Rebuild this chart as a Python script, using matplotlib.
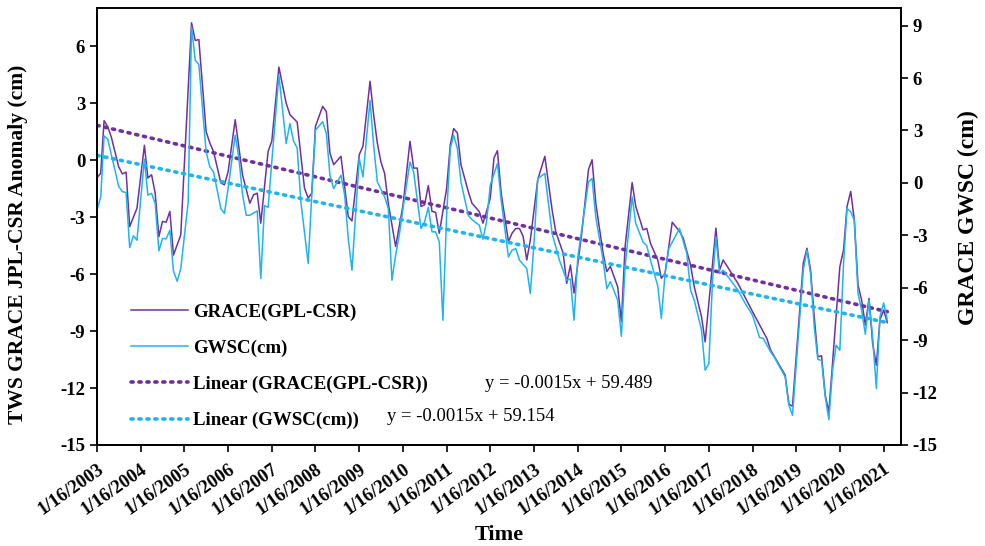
import numpy as np
import pandas as pd
import matplotlib
matplotlib.use("Agg")
import matplotlib.pyplot as plt
import matplotlib.dates as mdates

plt.rcParams['font.family'] = ['Liberation Serif', 'DejaVu Serif']
plt.rcParams['axes.unicode_minus'] = False

start = pd.Timestamp('2003-01-16')

# month offsets from 1/16/2003 and values
grace_months = [0, 1, 2, 3, 4, 6, 7, 8, 9, 11, 13, 14, 15, 16, 17, 18, 19, 20, 21, 23,
                26, 27, 28, 30, 31, 32, 34, 35, 36, 38, 39, 40, 42, 43, 44, 45, 47, 48, 50, 52,
                53, 54, 55, 57, 58, 59, 60, 62, 63, 64, 65, 67, 69, 70, 72, 73, 75, 76, 77, 78,
                79, 80, 82, 83, 84, 86, 87, 88, 89, 90, 91, 92, 93, 94, 96, 97, 98, 99, 100, 102,
                103, 105, 106, 107, 108, 109, 110, 111, 113, 114, 115, 116, 117, 118, 119, 121, 123, 125, 126, 128,
                129, 130, 131, 133, 135, 136, 137, 139, 140, 141, 143, 144, 145, 147, 148, 150, 151, 152, 154, 155,
                156, 158, 160, 161, 163, 164, 166, 167, 168, 169, 170, 171, 172, 176, 180, 184, 185, 189, 190, 191,
                194, 195, 196, 197, 198, 199, 200, 201, 202, 203, 204, 205, 206, 207, 208, 209, 210, 211, 212, 213,
                214, 215, 216, 217]
grace_vals = [-0.94, -0.68, 2.08, 1.75, 1.2, -0.35, -0.73, -0.63, -3.5, -2.53, 0.78, -0.94, -0.77, -1.74, -4.03, -3.23, -3.27, -2.7, -5.0, -3.94,
              7.23, 6.3, 6.35, 1.5, 0.9, 0.45, -1.2, -1.3, -0.6, 2.13, 0.64, -0.77, -2.27, -1.83, -1.74, -3.32, 0.46, 1.0, 4.9, 3.0,
              2.4, 2.2, 2.0, -1.47, -2.0, -1.74, 1.78, 2.83, 2.56, 0.37, -0.24, 0.2, -2.97, -3.2, 0.29, 0.73, 4.15, 2.4, 0.9, -0.1,
              -0.7, -2.3, -4.55, -3.5, -2.4, 0.99, -0.42, -0.42, -2.44, -2.35, -1.34, -2.7, -2.75, -3.85, -1.5, 0.81, 1.66, 1.43, -0.24, -1.65,
              -2.27, -2.71, -3.32, -2.71, -2.0, 0.11, 0.5, -1.74, -4.29, -3.85, -3.6, -3.6, -4.0, -5.26, -4.2, -1.03, 0.2, -2.62, -3.76, -4.9,
              -6.49, -5.52, -7.0, -4.0, -0.5, 0.02, -2.27, -4.9, -5.87, -5.6, -6.67, -8.51, -4.55, -1.18, -2.44, -3.67, -3.6, -4.38, -5.26, -6.22,
              -5.96, -3.27, -3.75, -4.11, -5.52, -6.67, -8.25, -9.57, -7.54, -5.43, -3.58, -5.78, -5.26, -6.49, -7.98, -9.39, -10.0, -11.32, -12.85, -12.96,
              -5.43, -4.64, -5.78, -8.25, -10.36, -10.3, -12.38, -13.26, -10.7, -8.25, -5.61, -4.73, -2.44, -1.65, -3.15, -6.58, -7.37, -8.69, -7.28, -9.65,
              -10.8, -8.42, -7.9, -8.56]

gwsc_months = [0, 1, 2, 3, 4, 5, 6, 7, 8, 9, 10, 11, 13, 14, 15, 16, 17, 18, 19, 20,
               21, 22, 23, 25, 26, 27, 28, 30, 31, 32, 34, 35, 36, 38, 39, 40, 41, 42, 44, 45,
               46, 47, 50, 52, 53, 54, 55, 56, 58, 59, 60, 62, 63, 64, 65, 67, 68, 69, 70, 71,
               72, 73, 75, 76, 77, 79, 80, 81, 82, 83, 84, 86, 87, 89, 90, 91, 92, 93, 94, 95,
               96, 97, 98, 99, 100, 102, 103, 105, 106, 107, 108, 110, 111, 113, 114, 115, 116, 118, 119, 120,
               121, 123, 125, 127, 129, 130, 131, 132, 135, 136, 137, 139, 140, 141, 143, 144, 145, 147, 148, 150,
               151, 152, 154, 155, 156, 157, 160, 162, 163, 164, 166, 167, 168, 169, 170, 171, 172, 176, 178, 180,
               182, 183, 185, 186, 189, 190, 191, 194, 195, 196, 197, 198, 199, 200, 201, 202, 203, 204, 205, 206,
               207, 208, 209, 210, 211, 212, 213, 214, 215, 216, 217]
gwsc_vals = [-1.56, -0.8, 2.69, 2.5, 1.6, 0.7, -0.2, -0.5, -0.55, -3.7, -3.03, -3.28, 1.36, -0.7, -0.6, -1.18, -3.89, -3.18, -3.2, -2.71,
             -5.05, -5.63, -4.9, -1.09, 8.93, 7.02, 6.78, 1.77, 0.92, 0.63, -1.47, -1.75, -0.3, 2.73, 1.4, -0.65, -1.85, -1.85, -1.6, -5.47,
             -1.3, -1.4, 6.17, 2.25, 3.4, 2.4, 2.0, -1.09, -4.61, -0.7, 3.02, 3.5, 2.83, 0.44, -0.32, 0.44, -0.7, -3.18, -5.0, -1.85,
             1.4, 0.34, 4.73, 2.16, 0.06, -0.8, -1.47, -5.57, -4.14, -3.0, -1.5, 1.2, 0.6, -2.61, -2.23, -1.4, -2.8, -2.8, -3.38, -7.86,
             -1.85, 1.97, 2.73, 1.97, 0.06, -1.85, -2.1, -2.42, -3.22, -2.23, -0.13, 1.11, -0.99, -4.24, -3.85, -3.76, -4.42, -4.9, -6.33, -3.4,
             0.25, 0.54, -2.9, -4.42, -5.57, -5.5, -7.86, -4.3, 0.06, 0.25, -1.95, -4.42, -6.05, -5.65, -6.71, -8.78, -4.8, -0.8, -2.32, -3.38,
             -3.6, -4.42, -5.9, -7.76, -5.2, -3.76, -2.61, -4.04, -6.14, -6.71, -8.43, -10.72, -10.34, -5.57, -3.09, -5.19, -5.0, -6.14, -6.9, -7.57,
             -8.85, -8.9, -9.67, -9.96, -11.1, -12.72, -13.3, -5.0, -3.85, -5.19, -8.24, -10.11, -10.15, -12.25, -13.55, -10.72, -9.29, -9.58, -4.61, -1.47,
             -1.66, -2.14, -6.33, -7.29, -8.66, -6.71, -8.81, -11.77, -7.67, -6.87, -7.86]

tick_years = list(range(2003, 2022))
left_ticks = [-15, -12, -9, -6, -3, 0, 3, 6]
right_ticks = [-15, -12, -9, -6, -3, 0, 3, 6, 9]

eq_grace = 'y = -0.0015x + 59.489'
eq_gwsc = 'y = -0.0015x + 59.154'

purple = '#7030A0'
blue = '#1FB4EE'


def to_dates(months):
    return [start + pd.DateOffset(months=m) for m in months]


grace_dates = to_dates(grace_months)
gwsc_dates = to_dates(gwsc_months)

fig = plt.figure(figsize=(9.85, 5.46), dpi=100)
ax = fig.add_axes([0.0985, 0.185, 0.8162, 0.80])
ax2 = ax.twinx()

l1, = ax.plot(grace_dates, grace_vals, color=purple, lw=1.1, label='GRACE(GPL-CSR)')
l2, = ax2.plot(gwsc_dates, gwsc_vals, color=blue, lw=1.1, label='GWSC(cm)')

# linear trends
gx = mdates.date2num(grace_dates)
p = np.polyfit(gx, grace_vals, 1)
l3, = ax.plot(grace_dates, np.polyval(p, gx), color=purple, lw=2.6, ls=(0, (0.6, 1.6)),
              dash_capstyle='round', label='Linear (GRACE(GPL-CSR))')
wx = mdates.date2num(gwsc_dates)
q = np.polyfit(wx, gwsc_vals, 1)
l4, = ax2.plot(gwsc_dates, np.polyval(q, wx), color=blue, lw=2.6, ls=(0, (0.6, 1.6)),
               dash_capstyle='round', label='Linear (GWSC(cm))')

ax.set_ylim(-15, 8)
ax2.set_ylim(-15, 10)
ax.set_yticks(left_ticks)
ax2.set_yticks(right_ticks)
ax.set_xlim(start, pd.Timestamp('2021-06-10'))

xt = [pd.Timestamp(year=y, month=1, day=16) for y in tick_years]
ax.set_xticks(xt)
ax.set_xticklabels(['1/16/%d' % y for y in tick_years], rotation=35, ha='right',
                   rotation_mode='anchor', fontweight='bold', fontsize=13.5)

for a in (ax, ax2):
    a.tick_params(direction='out', length=5, width=1.2, labelsize=13.5)
    for s in a.spines.values():
        s.set_linewidth(1.3)
    for lab in a.get_yticklabels():
        lab.set_fontweight('bold')
ax.tick_params(axis='x', pad=6)
ax.spines['top'].set_color('#444444')

ax.set_ylabel('TWS GRACE JPL-CSR Anomaly (cm)', fontsize=15.5, fontweight='bold')
ax.yaxis.set_label_coords(-0.086, 0.46)
ax2.set_ylabel('GRACE GWSC (cm)', fontsize=17, fontweight='bold')
ax2.yaxis.set_label_coords(1.071, 0.52)
ax.set_xlabel('Time', fontsize=16, fontweight='bold')
ax.xaxis.set_label_coords(0.5, -0.183)

leg = ax.legend(handles=[l1, l2, l3, l4], loc='lower left', bbox_to_anchor=(0.021, -0.003),
                frameon=False, prop={'weight': 'bold', 'size': 13.6}, labelspacing=1.0,
                handlelength=3.0, handletextpad=0.3)

fig.text(0.492, 0.290, eq_grace, fontsize=13.4)
fig.text(0.393, 0.229, eq_gwsc, fontsize=13.4)

fig.savefig('out.png', dpi=100)
